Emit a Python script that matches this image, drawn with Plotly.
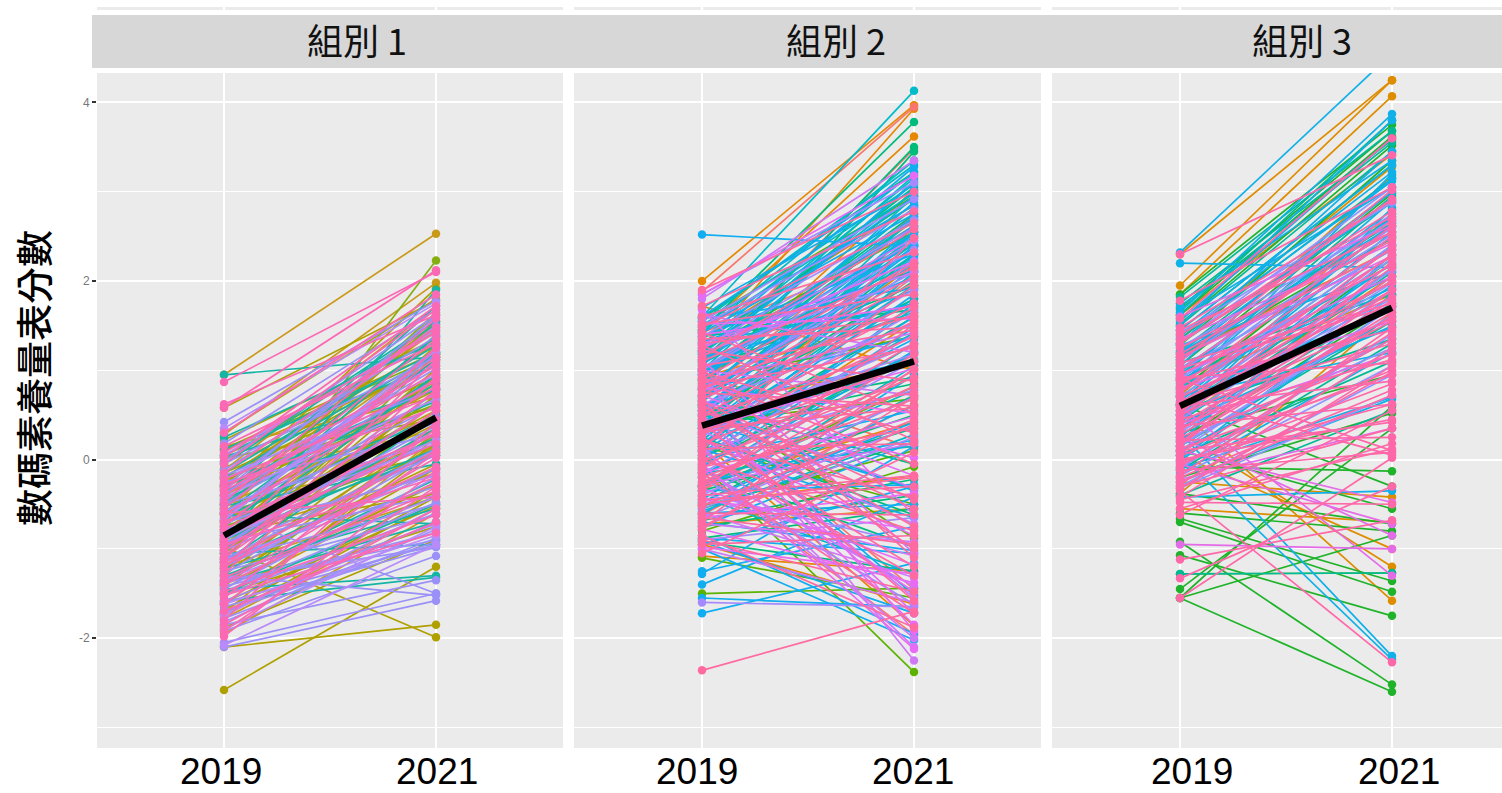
import plotly.graph_objects as go

W, H = 1502, 793
YEARS = [2019, 2021]
Y_TICKS = [-2, 0, 2, 4]
Y_TICK_LABELS = ["-2", "0", "2", "4"]
Y_MINOR = [-3, -1, 1, 3]
PANEL_TITLES = ["組別 1", "組別 2", "組別 3"]
Y_TITLE = "數碼素養量表分數"
MEAN_1 = [-0.85, 0.47]
MEAN_2 = [0.38, 1.10]
MEAN_3 = [0.60, 1.70]

# ---------- panel 1 ----------
A1_GOLD_19 = [0.95, 0.28, -0.12, -0.45, -0.72, -0.30, 0.05, -0.95, -1.20, -1.72, -0.60, -1.95, 0.15, -1.40, -0.85, -0.18, -1.05, -1.50, -1.15, -0.80, -0.50, -0.20, -1.78]
A1_GOLD_21 = [2.53, 1.98, 1.72, 1.20, 0.85, 1.45, 1.05, 0.62, -0.42, 0.25, 1.55, -0.60, 0.70, 0.40, -0.15, 0.32, 1.02, -0.25, 0.15, 0.92, 0.50, 1.30, -0.55]
A1_OLIVE_19 = [-2.58, -2.10, -0.98, -1.75, -1.62, -1.30, -1.10, -0.82, -0.55, -0.33, -0.10, 0.02, 0.22, -0.70, -1.50, -1.88, -0.95, -0.42, -1.18, -0.62, -0.20, 0.30, -1.40, -0.88, -1.02, -0.50, -1.68, 0.58, -0.25, -1.25, -1.60, -1.35, -1.05, -0.78, -0.52, -0.15, -1.45, -0.92, -0.68, -0.28, -1.22, 0.12, -0.40, -1.72, -0.60]
A1_OLIVE_21 = [-1.20, -1.85, -1.99, -0.48, 0.12, 0.55, 0.95, -0.38, 1.62, 1.92, 1.10, 0.45, 1.35, 0.22, -0.75, -0.90, 0.70, 1.48, -0.05, 0.88, 0.60, 1.80, -0.28, 1.28, 0.35, 0.05, -0.42, 1.78, 1.15, 0.78, -0.52, 0.18, 0.72, 0.40, 1.12, 0.92, -0.10, 1.00, 0.55, 1.52, 0.28, 1.20, 0.78, -0.35, 0.15]
A1_GREEN_19 = [-0.92, -0.55, -1.12, 0.10, -0.30, -1.42, -0.75]
A1_GREEN_21 = [2.23, 1.65, 1.18, 1.15, 0.62, 0.30, 0.08]
A1_TEAL_19 = [0.95, -0.92, -0.05, 0.03, -0.35, -0.60, -1.45, -1.05, -0.80, -0.15, -1.22, -0.48, -0.70, -1.58, 0.12, -0.95, -0.28, -1.35, -0.62, -0.40, -1.15, -0.85, 0.25, -0.52, -1.30, -1.00, -0.75, -0.45, -0.20, -0.02, -1.50, -0.90, -0.55, -1.15, -0.30, -0.65, -1.38, 0.05]
A1_TEAL_21 = [1.15, 1.90, 1.52, 0.78, 0.42, 1.12, -1.30, -0.95, 0.05, 1.28, -0.55, 0.85, 1.40, -1.32, 1.05, 0.25, 0.65, -0.22, -0.72, 1.72, 0.48, 0.95, 1.32, -0.05, -0.42, 0.35, 0.95, 0.68, 1.18, 1.55, -0.50, 0.12, 1.38, -0.10, 0.80, 0.50, -0.70, 1.20]
A1_LAV_19 = [-2.10, -2.05, -1.85, -1.92, -1.78, -1.65, -1.52, -1.30, -0.60, -1.10, -1.42, -0.95, -0.72, -0.38, -0.12, -1.20, -1.58, -0.85, -0.50, -0.25, -0.02, 0.42, -1.35, -1.02, -0.68, -1.48, -0.30, -0.90, -1.70, -0.58, 0.18, -1.12, -0.45, -1.82, -0.78, -1.25, -1.60, -1.45, -1.28, -1.12, -0.98, -0.82, -0.66, -0.50, -0.35, -0.18, -0.05, -1.72, -1.38, -0.92, -0.58]
A1_LAV_21 = [-1.58, -1.50, -1.35, -1.08, -0.88, -0.98, -0.60, -1.52, -1.50, -0.30, -0.82, 0.48, 0.18, 1.02, 1.38, -0.10, -0.72, 0.75, 0.90, 0.28, 1.62, 1.78, -0.98, 0.05, 1.18, -0.48, 1.50, 0.38, -0.92, 0.60, 1.68, 0.12, 1.08, -0.78, -0.18, -0.62, -0.95, -0.20, 0.08, -0.50, 0.62, 0.30, 1.25, 0.20, 1.60, 0.80, 1.15, -0.70, -0.90, -0.40, 0.42]
A1_PURPLE_19 = [-2.08, -1.90, -1.62, -1.35, -0.88, -0.42, 0.35, -1.15, -0.68, -1.75, 0.05, -0.22]
A1_PURPLE_21 = [-0.95, -0.75, -0.85, -0.42, 0.22, 0.68, 1.75, -0.15, 1.22, -0.55, 1.45, 0.95]
A1_PINK_19 = [0.87, 0.62, 0.58, 0.30, 0.15, 0.02, -0.15, -0.32, -0.48, -0.62, -0.78, -0.90, -1.02, -1.15, -1.28, -1.40, -1.55, -1.70, -1.85, -1.98, -0.22, -0.55, -0.85, -1.10, -1.32, -1.62, -0.40, -0.70, -0.95, -1.22, -1.48, -1.80, 0.08, -0.28, -0.60, -1.08, -1.38, -0.05, -0.75, -1.18, -1.92, -0.35, -0.98, -1.52]
A1_PINK_21 = [2.10, 1.62, 2.12, 1.85, 1.30, 1.72, 1.48, 1.05, 1.58, 0.82, 0.45, 1.25, 0.62, 0.10, 0.92, -0.25, 0.35, -0.70, -0.55, -0.12, 0.72, 1.35, 0.18, 0.55, -0.35, 0.08, 0.98, 0.28, -0.20, 1.12, -0.62, 0.42, 1.42, 0.58, -0.42, 0.78, 0.02, 1.68, 1.15, -0.08, -0.30, 0.88, 0.30, -0.82]

# ---------- panel 2 ----------
A2_ORANGE_19 = [2.00, 1.45, 1.25, 1.72, 0.85, 1.12, 0.45, 0.02, -1.08, -0.72, 0.62, -0.28, 1.35, 0.20, -0.95, 0.92, -0.50]
A2_ORANGE_21 = [3.97, 3.62, 3.93, 1.00, 3.02, 2.62, 2.18, 1.55, -1.25, -0.55, 1.05, 0.42, 2.85, -1.86, -1.62, 1.62, -0.18]
A2_SALMON_19 = [1.88, 1.10, 0.72, 0.30, -0.15, -0.62, 0.55, -0.35, 1.42, 0.95]
A2_SALMON_21 = [3.95, 3.48, 2.75, 2.05, -1.96, 0.62, -1.45, 0.95, 2.40, 0.12]
A2_OLIVE_19 = [-1.50, -1.10, -0.06, 0.42, -0.52, 0.88, 1.22, 0.15, -0.80, 0.65, -0.30, 1.55]
A2_OLIVE_21 = [-1.44, -1.55, -2.38, 0.68, 0.10, 1.38, 2.55, -0.50, -0.08, -0.88, 0.82, 2.95]
A2_GREEN_19 = [1.45, 1.05, 0.78, 0.38, 0.02, -0.35, -0.68, 1.30, 0.60, -0.12, 0.90, 1.58, -0.48, 0.25, 1.18, -0.88, 0.50, 1.38, 1.20, 0.98, 0.70, 0.45, 0.18, -0.05, -0.30, -0.55, -0.75, 0.60, 0.35, 1.00, -0.92]
A2_GREEN_21 = [3.78, 3.50, 3.45, 2.30, 1.12, 0.35, -0.22, 2.92, 1.80, -0.98, 2.68, 3.22, 0.72, -0.62, 2.12, -0.55, 0.92, 1.68, 3.05, 2.75, 2.50, 2.00, 1.60, 1.20, 0.50, 0.20, -0.40, -0.05, 0.85, 1.95, -1.25]
A2_TEAL_19 = [1.60, 1.42, 1.22, 0.95, 0.68, 0.35, 0.05, -0.30, -0.58, 1.50, 0.82, 0.48, 1.08, 0.20, -0.15, 1.32, 0.58, -0.42, 1.55, 1.35, 1.18, 1.00, 0.85, 0.72, 0.55, 0.40, 0.25, 0.10, 1.45, 1.25, 0.90, 0.65, 0.32, 0.00, -0.20, -0.45, 1.12, 0.78]
A2_TEAL_21 = [4.13, 3.35, 3.15, 2.82, 2.42, 1.95, 1.42, 0.78, 0.28, 3.08, 1.65, 2.72, 2.20, 2.55, 0.15, 1.72, -0.35, -1.28, 3.30, 3.22, 3.00, 3.12, 2.70, 2.95, 2.50, 2.60, 2.25, 2.10, 2.98, 2.40, 2.82, 2.30, 1.80, 1.70, 1.30, 1.05, 3.18, 2.55]
A2_BLUE_19 = [2.52, -1.72, -1.55, -1.40, -1.28, -1.25, -1.00, -0.92, -0.85, 1.70, 1.48, 1.28, 1.05, 0.88, 0.70, 0.52, 0.35, 0.18, 0.00, -0.18, -0.35, -0.52, -0.70, 1.38, 1.15, 0.78, 0.42, 0.12, -0.25, -0.62, 0.95, 0.62, 0.28, -0.08, 1.58, 1.02, 0.55, 1.60, 1.42, 1.22, 1.10, 0.95, 0.80, 0.66, 0.50, 0.38, 0.22, 0.08, -0.10, -0.30, -0.48, -0.75, 1.32, 0.98, 0.58, 0.15, -0.60, -0.95, -0.88]
A2_BLUE_21 = [2.39, -1.16, -1.65, -0.42, 0.15, -0.75, -2.02, -1.72, -1.95, 3.02, 2.85, 3.28, 3.10, 2.88, 2.38, 2.62, 2.15, 1.85, 0.55, 1.22, -0.28, 0.42, -1.02, 2.30, 1.75, 1.38, -0.32, -0.65, 0.22, 0.95, 2.52, 1.10, 2.28, 1.48, 1.92, 2.05, -1.52, 3.20, 2.75, 2.95, 2.62, 2.72, 2.45, 2.55, 2.20, 2.40, 1.95, 1.60, 1.75, 1.20, 0.60, 0.20, 2.10, 1.90, 2.35, 1.35, -0.50, -0.30, -1.05]
A2_LAV_19 = [-1.60, 1.85, 1.38, 1.02, 0.75, 0.40, 0.10, -0.20, -0.55, -0.90, 1.20, 0.62, 1.55, -0.38, 0.28, 1.50, 1.25, 1.00, 0.80, 0.55, 0.30, 0.05, -0.15, -0.40, -0.65]
A2_LAV_21 = [-1.65, 3.10, 2.68, 2.45, 2.22, 1.18, 0.78, -1.62, 0.38, -0.65, 2.02, 1.52, 2.92, -0.95, 1.30, 2.80, 2.60, 2.35, 2.10, 1.90, 1.65, 1.40, 1.10, 0.70, 0.25]
A2_PURPLE_19 = [1.80, 1.62, 1.30, 1.00, 0.70, 0.42, 0.15, -0.12, -0.42, -0.72, -1.00, 0.88, 0.32, -0.28, -0.60, 1.15, 0.55, -0.05]
A2_PURPLE_21 = [3.35, 1.20, 2.10, 0.72, -2.25, -1.55, -2.10, -1.42, -1.08, -0.92, -1.60, 1.42, -0.72, 0.18, -1.32, 2.48, -0.32, -2.00]
A2_MAGENTA_19 = [1.85, 1.68, 1.40, 1.12, 0.80, 0.50, 0.22, -0.05, -0.32, -0.65, -0.98, 0.95, 0.35, -0.45, 0.65, -0.15, 0.10, 1.25, -0.78, 0.45, 0.72, 1.52]
A2_MAGENTA_21 = [3.18, -0.62, 1.72, -1.05, 0.52, -1.72, -0.85, -2.12, -1.18, -0.38, -1.28, -1.92, 1.02, -0.78, 0.02, 0.48, -1.48, 2.22, -1.38, -1.85, -0.18, 1.58]
A2_PINK_19 = [1.90, 1.72, 1.60, 1.48, 1.35, 1.22, 1.10, 0.98, 0.85, 0.72, 0.60, 0.48, 0.35, 0.22, 0.10, -0.02, -0.15, -0.28, -0.40, -0.52, -0.65, -0.78, -0.90, -1.05, -2.36, 1.52, 1.28, 1.02, 0.78, 0.55, 0.30, 0.05, -0.20, -0.45, -0.70, 1.15, 0.92, 0.68, 0.42, 0.18, -0.08, -0.35, -0.60, -0.85, 1.42, 0.82, 0.25, -0.25, 0.62, 0.12, 1.30, 1.05, 0.90, 0.75, 0.50, 0.30, 0.15, -0.10, -0.30, -0.50, -0.75, -0.95, 0.65, 0.40, 0.00]
A2_PINK_21 = [3.00, 2.78, 2.32, 2.65, 1.48, 0.88, 2.15, 0.30, 1.62, 1.98, -0.75, 1.28, 0.58, -0.42, 2.48, 0.92, -1.72, 1.18, -0.18, 0.45, -0.95, 0.70, -1.48, 0.08, -1.70, 1.85, 0.22, -1.10, 2.05, -0.55, 1.38, -1.30, 0.68, -0.30, 1.02, 2.58, -0.05, 1.75, -1.58, 1.10, 0.35, 1.52, -0.62, -1.88, 0.52, 1.25, -1.20, 0.82, -1.00, 0.18, 1.60, 1.45, 2.20, 0.60, 1.70, 0.75, 1.95, 1.30, 1.00, -0.20, 0.40, -0.85, -0.45, 1.55, -0.80]

# ---------- panel 3 ----------
A3_ORANGE_19 = [2.30, 1.95, 1.85, 1.62, 1.35, 1.05, 0.72, 0.55, 0.30, 0.05, -0.25, -0.38, 1.18, 0.85, 0.45, -0.55]
A3_ORANGE_21 = [4.25, 4.25, 4.07, 3.42, 3.28, 3.18, 2.75, -1.58, -1.20, -1.00, -0.42, 1.65, 2.35, 1.85, 2.05, -0.70]
A3_GREEN_19 = [-1.55, -1.55, -1.55, -0.92, -0.66, -0.70, -1.07, -1.28, 1.85, 1.70, 1.52, 1.28, 1.05, 0.78, 0.50, 0.22, -0.08, -0.38, -0.60, 1.62, 1.12, 0.62, 0.30, -1.45, 0.10, -0.20]
A3_GREEN_21 = [-2.60, -0.85, 0.60, -2.52, -1.36, -1.48, -1.75, -1.27, 3.75, 3.68, 3.52, 3.35, 2.98, 2.62, 2.25, 1.72, -0.13, -0.72, -0.80, 3.62, 2.48, -0.30, 0.95, 0.35, -0.55, 0.52]
A3_TEAL_19 = [1.82, 1.62, 1.45, 1.22, 0.98, 0.70, 0.42, 0.15, -0.12, -0.40, -1.28, 1.75, 1.30, 0.88, 0.55, 1.08, 1.68, 1.50, 1.35, 1.15, 0.92, 0.60, 0.35, 0.05]
A3_TEAL_21 = [3.68, 3.80, 3.30, 3.00, 2.72, 2.40, 2.10, 1.55, 1.30, 0.55, -1.27, 3.58, 2.88, 2.18, 1.35, 1.85, 3.55, 3.45, 3.15, 2.65, 2.95, 2.00, 1.75, 1.10]
A3_BLUE_19 = [2.32, 2.20, 1.65, 1.50, 1.72, 1.38, 1.20, 1.00, 0.80, 0.62, 0.40, 0.20, -0.02, -0.25, -0.42, 0.30, 0.05, 1.58, 1.12, 0.90, 0.50, -0.10, 1.28, 0.72, 1.55, 1.45, 1.30, 1.15, 1.05, 0.95, 0.85, 0.75, 0.65, 0.55, 0.45, 0.35, 0.25, 0.15, 0.00, -0.15, 1.40, 1.00, 0.70, 0.40, 0.10, 1.20, 0.82, 0.50]
A3_BLUE_21 = [4.55, 2.15, 3.87, 3.80, 3.35, 3.12, 2.92, 2.70, 3.20, 2.55, 2.82, 2.30, 1.72, 0.68, -0.35, -2.20, -2.24, 3.05, 2.62, 1.92, 1.48, 0.70, 2.10, 1.20, 3.60, 3.30, 3.45, 3.00, 3.15, 2.80, 2.90, 2.50, 2.65, 2.20, 2.40, 1.95, 2.15, 1.60, 1.85, 1.20, 3.22, 2.35, 1.70, 1.50, 1.35, 2.55, 2.05, 2.75]
A3_LAV_19 = [1.42, 1.02, 0.78, 0.45, 0.15, -0.18, 1.25, 0.62, -0.32, 0.92, 1.30, 1.10, 0.90, 0.70, 0.50, 0.30, 0.10, -0.10, -0.30, 1.00, 0.60, 0.20]
A3_LAV_21 = [2.88, 2.52, 2.28, 1.98, 1.62, 1.05, 2.68, 1.80, 0.72, 2.18, 3.05, 2.75, 2.60, 2.40, 2.12, 1.90, 1.70, 1.40, 0.95, 2.35, 2.25, 1.25]
A3_MAGENTA_19 = [1.60, 1.35, 0.95, 0.60, 0.25, -0.05, -0.95, 0.40, 0.80, 0.10, 1.15, -0.22]
A3_MAGENTA_21 = [2.62, 2.42, 2.05, -1.30, -0.85, -0.72, -1.00, 1.18, 1.55, -0.48, 2.28, 0.35]
A3_PINK_19 = [2.30, 1.78, 1.58, 1.40, 1.25, 1.10, 0.95, 0.82, 0.70, 0.58, 0.45, 0.32, 0.20, 0.08, -0.05, -0.18, -0.30, -0.42, -0.55, -1.12, -1.33, -1.55, 1.48, 1.18, 0.88, 0.62, 0.38, 0.12, -0.12, -0.35, 1.32, 1.02, 0.75, 0.50, 0.25, 0.00, -0.25, 0.90, 0.55, 0.15, -0.48, -0.62, 1.45, 1.30, 1.15, 1.00, 0.88, 0.76, 0.64, 0.52, 0.40, 0.28, 0.16, 0.04, -0.08, -0.20, -0.32, -0.45, 1.08, 0.92, 0.70, 0.48, 0.22, -0.02, 0.60, 0.35, 0.10, -0.28]
A3_PINK_21 = [3.41, 3.05, 3.60, 2.72, 2.45, 3.02, 2.18, 2.62, 1.82, 2.38, 1.12, 2.05, 1.65, 1.35, 0.85, 1.48, 0.35, 1.05, 0.18, -0.68, -0.30, 0.02, 2.90, 2.55, 1.98, 1.30, 0.62, 0.95, 0.08, -2.27, 2.78, 1.72, 2.28, 1.58, 1.18, 0.45, 0.72, 0.10, 1.90, 2.22, -0.50, 0.55, 2.55, 2.92, 2.35, 2.68, 1.45, 2.50, 2.00, 2.30, 1.78, 1.60, 1.90, 1.00, 1.42, 0.78, 0.98, 0.12, 1.75, 1.08, 0.05, 2.15, 0.25, 0.62, 0.88, 1.55, 0.42, 1.25]

PANEL_1 = [("#C99A1A", A1_GOLD_19, A1_GOLD_21), ("#AFA000", A1_OLIVE_19, A1_OLIVE_21),
           ("#84AE10", A1_GREEN_19, A1_GREEN_21), ("#15B5A5", A1_TEAL_19, A1_TEAL_21),
           ("#9A90F8", A1_LAV_19, A1_LAV_21), ("#B98BFA", A1_PURPLE_19, A1_PURPLE_21),
           ("#FB69B5", A1_PINK_19, A1_PINK_21)]
PANEL_2 = [("#E58700", A2_ORANGE_19, A2_ORANGE_21), ("#F8766D", A2_SALMON_19, A2_SALMON_21),
           ("#5BB300", A2_OLIVE_19, A2_OLIVE_21), ("#00BC7A", A2_GREEN_19, A2_GREEN_21),
           ("#00BBC8", A2_TEAL_19, A2_TEAL_21), ("#10ADF0", A2_BLUE_19, A2_BLUE_21),
           ("#A58AFF", A2_LAV_19, A2_LAV_21), ("#CF78F5", A2_PURPLE_19, A2_PURPLE_21),
           ("#E76BF3", A2_MAGENTA_19, A2_MAGENTA_21), ("#FF6AA0", A2_PINK_19, A2_PINK_21)]
PANEL_3 = [("#DE8C00", A3_ORANGE_19, A3_ORANGE_21), ("#1FB32A", A3_GREEN_19, A3_GREEN_21),
           ("#00BA96", A3_TEAL_19, A3_TEAL_21), ("#10B0E8", A3_BLUE_19, A3_BLUE_21),
           ("#8E95FF", A3_LAV_19, A3_LAV_21), ("#E46BE8", A3_MAGENTA_19, A3_MAGENTA_21),
           ("#FF68A8", A3_PINK_19, A3_PINK_21)]

fig = go.Figure()
panels = [
    (PANEL_1, MEAN_1, "x", 97, 563, 224, [-3, 1], 357),
    (PANEL_2, MEAN_2, "x2", 574, 1041, 702, [-5, -1], 836),
    (PANEL_3, MEAN_3, "x3", 1052, 1502, 1180, [12, 7], 1302),
]
PX_PER_YEAR = 106.0
TOP, BOTTOM = 73, 748
common_grid = dict(showgrid=True, gridcolor="white", zeroline=False)
for i, (groups, mean, xref, left, right, x19, shifts, cx) in enumerate(panels):
    for color, v19, v21 in groups:
        xs, ys = [], []
        for a, b in zip(v19, v21):
            xs += [YEARS[0], YEARS[1], None]
            ys += [a, b, None]
        fig.add_trace(go.Scatter(x=xs, y=ys, mode="lines+markers", xaxis=xref, yaxis="y",
                                 line=dict(color=color, width=1.7),
                                 marker=dict(color=color, size=8.5, line=dict(width=0)),
                                 hoverinfo="skip", showlegend=False))
    fig.add_trace(go.Scatter(x=YEARS, y=mean, mode="lines", xaxis=xref, yaxis="y",
                             line=dict(color="black", width=6.5), hoverinfo="skip", showlegend=False))
    axis_name = "xaxis" if i == 0 else f"xaxis{i+1}"
    x0 = YEARS[0] + (left - x19) / PX_PER_YEAR
    x1 = YEARS[0] + (right - x19) / PX_PER_YEAR
    fig.update_layout({axis_name: dict(domain=[left / W, right / W], range=[x0, x1], tickvals=YEARS,
                                       showticklabels=False, ticks="", gridwidth=2.2, anchor="y",
                                       **common_grid)})
    for year, sh in zip(YEARS, shifts):
        fig.add_annotation(x=year, xref=xref, xshift=sh, y=0, yref="paper", yanchor="bottom",
                           text=str(year), showarrow=False, borderpad=0,
                           font=dict(family="Liberation Sans", size=37, color="black"))
    fig.add_annotation(x=cx / W, xref="paper", xanchor="center", y=1 - 39 / H, yref="paper", yanchor="middle",
                       text=PANEL_TITLES[i], showarrow=False,
                       font=dict(family="Noto Sans CJK TC", size=36, color="#111111"))
    fig.add_shape(type="rect", xref="paper", yref="paper", x0=left / W, x1=right / W,
                  y0=1 - 10 / H, y1=1 - 7 / H, fillcolor="#EBEBEB", line_width=0, layer="below")
    for px in (x19, x19 + 2 * PX_PER_YEAR):
        fig.add_shape(type="rect", xref="paper", yref="paper", x0=(px - 1.2) / W, x1=(px + 1.2) / W,
                      y0=1 - 10 / H, y1=1 - 7 / H, fillcolor="white", line_width=0, layer="below")

fig.add_shape(type="rect", xref="paper", yref="paper", x0=92 / W, x1=1, y0=1 - 68 / H, y1=1 - 15 / H,
              fillcolor="#D7D7D7", line_width=0, layer="below")
fig.add_annotation(x=33 / W, xref="paper", y=1 - 378 / H, yref="paper", textangle=-90, text=Y_TITLE,
                   showarrow=False, xanchor="center", yanchor="middle",
                   font=dict(family="Noto Sans CJK TC", size=37, color="black", weight=500))

fig.update_layout(
    width=W, height=H, margin=dict(l=0, r=0, t=0, b=0), paper_bgcolor="white", plot_bgcolor="#EBEBEB",
    showlegend=False,
    yaxis=dict(domain=[1 - BOTTOM / H, 1 - TOP / H], range=[-3.23, 4.33], tickvals=Y_TICKS, ticktext=Y_TICK_LABELS,
               ticks="outside", ticklen=4, tickcolor="#333333", tickwidth=1.5,
               tickfont=dict(family="Liberation Sans", size=12, color="#777777"),
               gridwidth=1.8, minor=dict(tickvals=Y_MINOR, showgrid=True, gridcolor="white", gridwidth=1, ticks=""),
               **common_grid),
)
fig.write_html("out.html", config={"displayModeBar": False},
               post_script="document.body.style.margin='0';document.body.style.overflow='hidden';")
